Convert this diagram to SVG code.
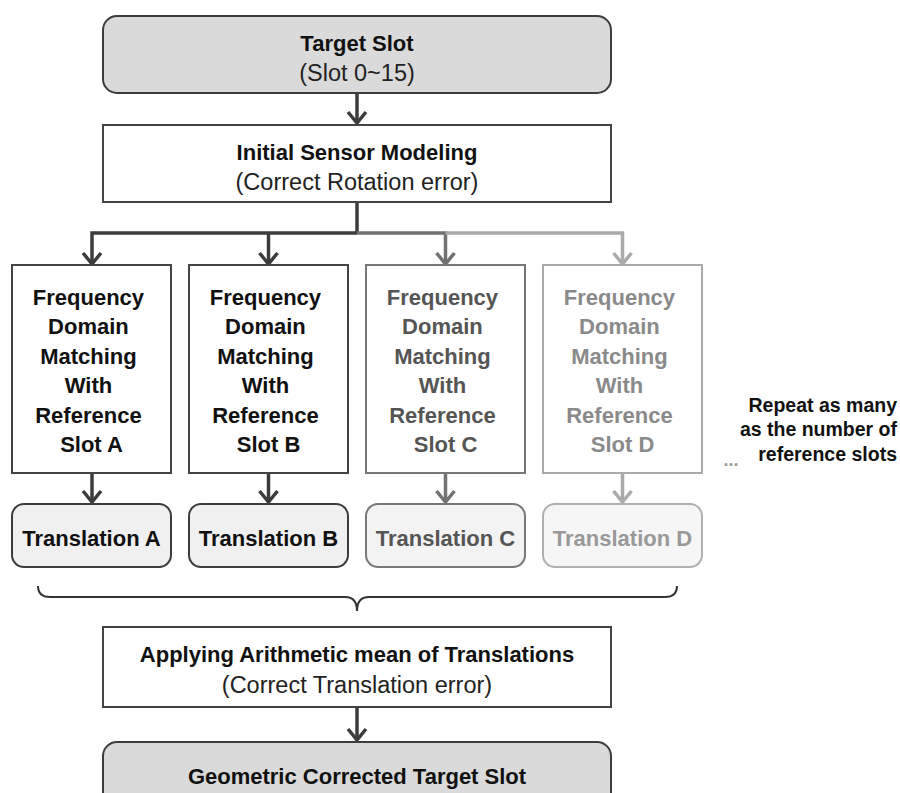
<svg xmlns="http://www.w3.org/2000/svg" width="900" height="793" viewBox="0 0 900 793">
  <style>
    text { font-family: "Liberation Sans", Arial, sans-serif; text-anchor: middle; }
    .b { font-weight: bold; font-size: 22px; fill: #111; }
    .r { font-size: 23.5px; fill: #222; }
    .side { font-weight: bold; font-size: 19.5px; fill: #111; text-anchor: end; }
    .term { fill: #dadada; stroke: #3c3c3c; stroke-width: 2; }
    .proc { fill: #fff; stroke: #444; stroke-width: 2; }
    .trans { stroke-width: 2; }
    .dark { stroke: #3c3c3c; }
    .mid { stroke: #727272; }
    .light { stroke: #ababab; }
    .conn { fill: none; stroke-width: 3.5; }
  </style>
  <defs>
    <marker id="ah-dark" markerUnits="userSpaceOnUse" viewBox="-14 -12 16 24" refX="0" refY="0" markerWidth="16" markerHeight="24" orient="auto">
      <path d="M-11,-9 L0,0 L-11,9" fill="none" stroke="#3c3c3c" stroke-width="3.5"/>
    </marker>
    <marker id="ah-mid" markerUnits="userSpaceOnUse" viewBox="-14 -12 16 24" refX="0" refY="0" markerWidth="16" markerHeight="24" orient="auto">
      <path d="M-11,-9 L0,0 L-11,9" fill="none" stroke="#727272" stroke-width="3.5"/>
    </marker>
    <marker id="ah-light" markerUnits="userSpaceOnUse" viewBox="-14 -12 16 24" refX="0" refY="0" markerWidth="16" markerHeight="24" orient="auto">
      <path d="M-11,-9 L0,0 L-11,9" fill="none" stroke="#ababab" stroke-width="3.5"/>
    </marker>
  </defs>

  <g id="connectors">
    <path class="conn dark" d="M357,93 V123" marker-end="url(#ah-dark)"/>
    <path class="conn dark" d="M357,202 V233"/>
    <path class="conn dark" d="M357,233 H92 V264" marker-end="url(#ah-dark)"/>
    <path class="conn dark" d="M268.5,233 V264" marker-end="url(#ah-dark)"/>
    <path class="conn mid" d="M357,233 H445.5 V264" marker-end="url(#ah-mid)"/>
    <path class="conn light" d="M445.5,233 H622.5 V264" marker-end="url(#ah-light)"/>
    <path class="conn dark" d="M92,473 V502" marker-end="url(#ah-dark)"/>
    <path class="conn dark" d="M268.5,473 V502" marker-end="url(#ah-dark)"/>
    <path class="conn mid" d="M445.5,473 V502" marker-end="url(#ah-mid)"/>
    <path class="conn light" d="M622.5,473 V502" marker-end="url(#ah-light)"/>
    <path class="conn dark" d="M357,708 V740" marker-end="url(#ah-dark)"/>
    <!-- brace gathering the translations -->
    <path d="M38,586 Q38,597 50,597 L345,597 Q357,597 357,611 Q357,597 369,597 L665,597 Q677,597 677,586" fill="none" stroke="#333" stroke-width="2"/>
  </g>

  <g id="target-slot">
    <rect class="term" x="103" y="16" width="508" height="77" rx="14"/>
    <text class="b" x="357" y="51">Target Slot</text>
    <text class="r" x="357" y="81">(Slot 0~15)</text>
  </g>

  <g id="initial-sensor-modeling">
    <rect class="proc" x="103" y="125" width="508" height="77"/>
    <text class="b" x="357" y="160">Initial Sensor Modeling</text>
    <text class="r" x="357" y="190">(Correct Rotation error)</text>
  </g>

  <g id="matching-a">
    <rect class="proc" x="12" y="265" width="159" height="208"/>
    <text class="b" x="91.5">
      <tspan x="91.5" y="305">Frequency</tspan>
      <tspan x="91.5" y="334.4">Domain</tspan>
      <tspan x="91.5" y="363.8">Matching</tspan>
      <tspan x="91.5" y="393.2">With</tspan>
      <tspan x="91.5" y="422.6">Reference</tspan>
      <tspan x="91.5" y="452">Slot A</tspan>
    </text>
  </g>

  <g id="matching-b">
    <rect class="proc" x="189" y="265" width="159" height="208"/>
    <text class="b" x="268.5">
      <tspan x="268.5" y="305">Frequency</tspan>
      <tspan x="268.5" y="334.4">Domain</tspan>
      <tspan x="268.5" y="363.8">Matching</tspan>
      <tspan x="268.5" y="393.2">With</tspan>
      <tspan x="268.5" y="422.6">Reference</tspan>
      <tspan x="268.5" y="452">Slot B</tspan>
    </text>
  </g>

  <g id="matching-c">
    <rect class="proc" x="366" y="265" width="159" height="208" style="stroke:#777"/>
    <text class="b" x="445.5" style="fill:#555">
      <tspan x="445.5" y="305">Frequency</tspan>
      <tspan x="445.5" y="334.4">Domain</tspan>
      <tspan x="445.5" y="363.8">Matching</tspan>
      <tspan x="445.5" y="393.2">With</tspan>
      <tspan x="445.5" y="422.6">Reference</tspan>
      <tspan x="445.5" y="452">Slot C</tspan>
    </text>
  </g>

  <g id="matching-d">
    <rect class="proc" x="543" y="265" width="159" height="208" style="stroke:#aaa"/>
    <text class="b" x="622.5" style="fill:#8a8a8a">
      <tspan x="622.5" y="305">Frequency</tspan>
      <tspan x="622.5" y="334.4">Domain</tspan>
      <tspan x="622.5" y="363.8">Matching</tspan>
      <tspan x="622.5" y="393.2">With</tspan>
      <tspan x="622.5" y="422.6">Reference</tspan>
      <tspan x="622.5" y="452">Slot D</tspan>
    </text>
  </g>

  <g id="translation-a">
    <rect class="trans" x="12" y="504" width="159" height="63" rx="12" fill="#f0f0f0" stroke="#3c3c3c"/>
    <text class="b" x="91.5" y="546">Translation A</text>
  </g>
  <g id="translation-b">
    <rect class="trans" x="189" y="504" width="159" height="63" rx="12" fill="#f0f0f0" stroke="#3c3c3c"/>
    <text class="b" x="268.5" y="546">Translation B</text>
  </g>
  <g id="translation-c">
    <rect class="trans" x="366" y="504" width="159" height="63" rx="12" fill="#f3f3f3" stroke="#777"/>
    <text class="b" x="445.5" y="546" style="fill:#555">Translation C</text>
  </g>
  <g id="translation-d">
    <rect class="trans" x="543" y="504" width="159" height="63" rx="12" fill="#f6f6f6" stroke="#b0b0b0"/>
    <text class="b" x="622.5" y="546" style="fill:#999">Translation D</text>
  </g>

  <g id="repeat-note">
    <text class="side" x="897" y="412">Repeat as many</text>
    <text class="side" x="897" y="436">as the number of</text>
    <text class="side" x="897" y="461">reference slots</text>
    <text x="731" y="466" style="font-size:18px;fill:#999;font-weight:bold">...</text>
  </g>

  <g id="mean-translation">
    <rect class="proc" x="103" y="627" width="508" height="80"/>
    <text class="b" x="357" y="662">Applying Arithmetic mean of Translations</text>
    <text class="r" x="357" y="693">(Correct Translation error)</text>
  </g>

  <g id="corrected-slot">
    <rect class="term" x="103" y="742" width="508" height="70" rx="14"/>
    <text class="b" x="357" y="784">Geometric Corrected Target Slot</text>
  </g>
</svg>
